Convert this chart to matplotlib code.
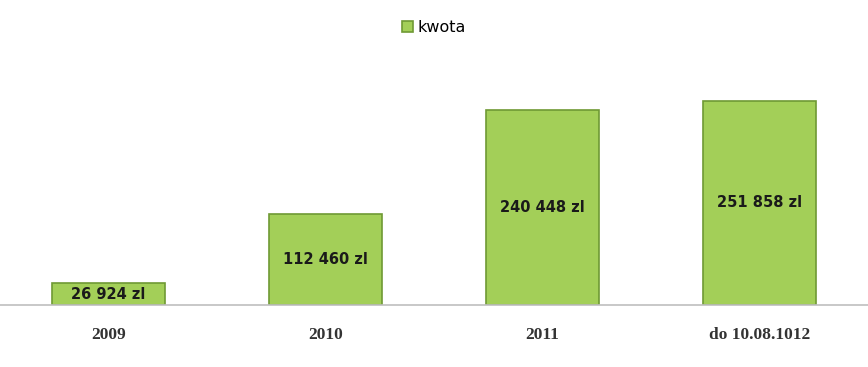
import matplotlib.pyplot as plt

categories = ['2009', '2010', '2011', 'do 10.08.1012']
kwota = [26924, 112460, 240448, 251858]
labels = ['26 924 zl', '112 460 zl', '240 448 zl', '251 858 zl']

fig = plt.figure(figsize=(8.68, 3.67), dpi=100)
ax = fig.add_axes([0.0, 0.169, 1.0, 0.722])

x = range(len(categories))
bars = ax.bar(x, kwota, width=0.52, color='#a3cf58', edgecolor='#6f9a34',
              linewidth=1.2, label='kwota')

for b, txt in zip(bars, labels):
    ax.text(b.get_x() + b.get_width() / 2, b.get_height() / 2, txt,
            ha='center', va='center', fontsize=10.5, fontweight='bold',
            color='#1a1a1a', family='DejaVu Sans')

ax.set_xlim(-0.5, len(categories) - 0.5)
ax.set_ylim(0, 327000)
ax.set_xticks(list(x))
ax.set_xticklabels(categories, fontsize=12.5, fontweight='bold', color='#333333',
                   family='Liberation Serif')
ax.tick_params(axis='x', length=0, pad=16)
ax.set_yticks([])
for s in ['top', 'right', 'left']:
    ax.spines[s].set_visible(False)
ax.spines['bottom'].set_color('#bfbfbf')
ax.spines['bottom'].set_linewidth(1.2)

fig.legend(loc='upper center', bbox_to_anchor=(0.5, 0.985), frameon=False,
           fontsize=11.5, handlelength=0.7, handleheight=0.7, handletextpad=0.3)

fig.savefig('out.png', dpi=100)
